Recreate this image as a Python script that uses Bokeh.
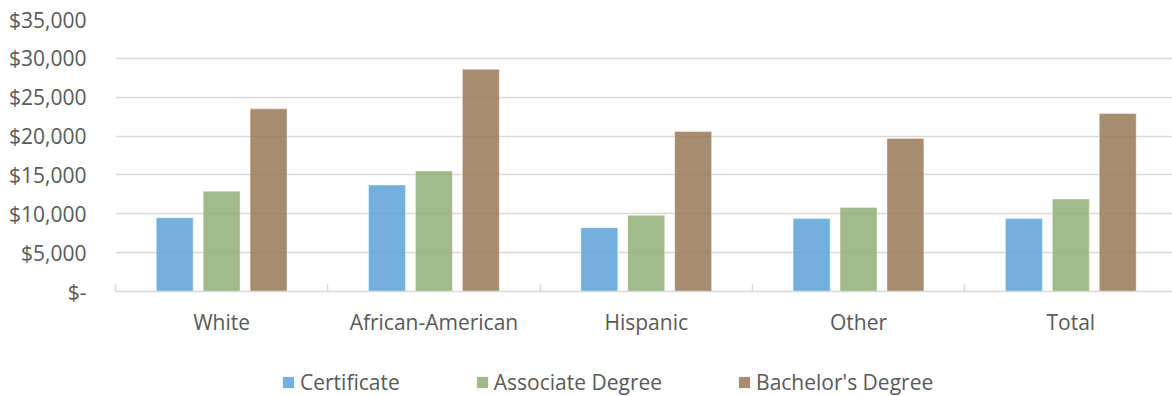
from bokeh.plotting import figure
from bokeh.models import Range1d, FixedTicker, Legend, LegendItem
from bokeh.layouts import column
from bokeh.embed import file_html
from bokeh.resources import INLINE

groups = ["White", "African-American", "Hispanic", "Other", "Total"]
certificate = [9500, 13700, 8200, 9400, 9400]
associate = [12900, 15500, 9800, 10800, 11900]
bachelor = [23500, 28600, 20600, 19700, 22900]
series_names = ["Certificate", "Associate Degree", "Bachelor's Degree"]
y_ticks = [0, 5000, 10000, 15000, 20000, 25000, 30000, 35000]
y_labels = ["$-", "$5,000", "$10,000", "$15,000", "$20,000", "$25,000", "$30,000", "$35,000"]

colors = ["#5BA2D7", "#92AD75", "#997857"]
FONT = "Open Sans"
TXT = "#595959"

p = figure(width=1172, height=350, x_range=Range1d(0, 4.979), y_range=Range1d(0, 35000),
           output_backend="svg", toolbar_location=None,
           min_border_left=115, min_border_right=0, min_border_top=19, min_border_bottom=59)
p.outline_line_color = None
p.background_fill_color = "white"

centers = [i + 0.5 for i in range(len(groups))]
offsets = [-0.221, 0.0, 0.221]
series = [certificate, associate, bachelor]
bar_style = dict(width=0.174, bottom=0, fill_alpha=0.85, line_color="white", line_alpha=0.4, line_width=1)
for vals, off, col in zip(series, offsets, colors):
    p.vbar(x=[c + off for c in centers], top=vals, fill_color=col, **bar_style)

p.xgrid.grid_line_color = None
p.ygrid.grid_line_color = "#d9d9d9"
p.ygrid.grid_line_width = 1.5

p.yaxis.ticker = FixedTicker(ticks=y_ticks)
p.yaxis.major_label_overrides = {t: l for t, l in zip(y_ticks, y_labels)}
p.yaxis.axis_line_color = None
p.yaxis.major_tick_line_color = None
p.yaxis.minor_tick_line_color = None
p.yaxis.major_label_text_font = FONT
p.yaxis.major_label_text_font_size = "21px"
p.yaxis.major_label_text_color = TXT
p.yaxis.major_label_standoff = 23

p.xaxis.ticker = FixedTicker(ticks=centers, minor_ticks=[0, 1, 2, 3, 4])
p.xaxis.major_label_overrides = {c: g for c, g in zip(centers, groups)}
p.xaxis.major_tick_line_color = None
p.xaxis.minor_tick_in = 7
p.xaxis.minor_tick_out = 0
p.xaxis.minor_tick_line_color = "#d9d9d9"
p.xaxis.minor_tick_line_width = 1.5
p.xaxis.axis_line_color = "#d9d9d9"
p.xaxis.axis_line_width = 1.5
p.xaxis.major_label_text_font = FONT
p.xaxis.major_label_text_font_size = "21px"
p.xaxis.major_label_text_color = TXT
p.xaxis.major_label_standoff = 10

# legend strip: same series drawn outside this strip's x range, so only the legend shows
pl = figure(width=1172, height=46, x_range=Range1d(-101, -100), y_range=Range1d(0, 35000),
            output_backend="svg", toolbar_location=None,
            min_border_left=115, min_border_right=0, min_border_top=0, min_border_bottom=0)
pl.axis.visible = False
pl.grid.grid_line_color = None
pl.outline_line_color = None
leg_style = dict(bar_style, line_color=None)
leg_renderers = [pl.vbar(x=[c + off for c in centers], top=vals, fill_color=col, **leg_style)
                 for vals, off, col in zip(series, offsets, colors)]
legend = Legend(items=[LegendItem(label=n, renderers=[r]) for n, r in zip(series_names, leg_renderers)],
                orientation="horizontal", location=(166, 0),
                glyph_width=14, glyph_height=14, label_standoff=5, spacing=75,
                label_text_font=FONT, label_text_font_size="21px", label_text_color=TXT,
                border_line_color=None, background_fill_alpha=0, margin=0, padding=0)
pl.add_layout(legend, "center")

layout = column(p, pl, spacing=0)
open("out.html", "w").write(file_html(layout, INLINE))
